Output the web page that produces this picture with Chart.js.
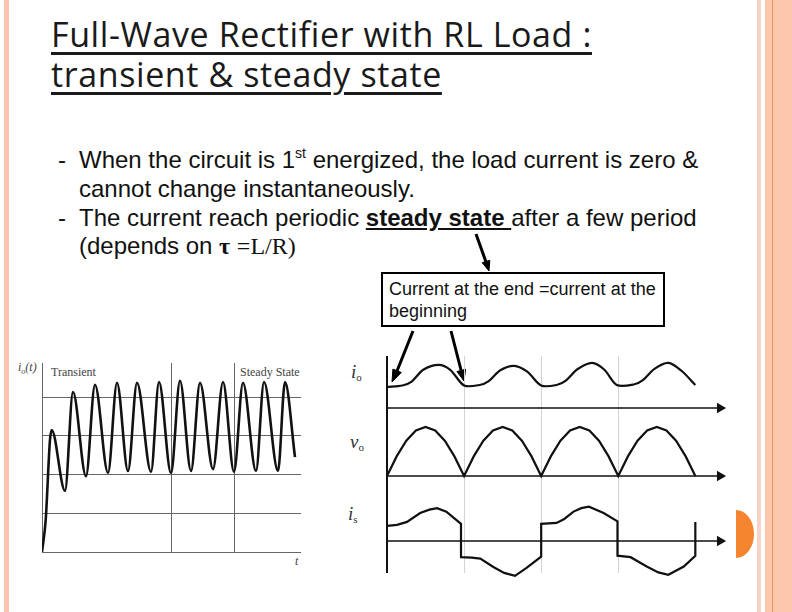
<!DOCTYPE html>
<html>
<head>
<meta charset="utf-8">
<script src="https://cdn.jsdelivr.net/npm/chart.js@4.4.1/dist/chart.umd.min.js"></script>
<style>
body { margin:0; width:792px; height:612px; position:relative; overflow:hidden; background:#fff; font-family:"Liberation Sans", Arial, sans-serif; color:#111; }
.abs { position:absolute; white-space:nowrap; }
.title { left:51px; font-family:"Open Sans", sans-serif; font-size:34px; letter-spacing:0.6px; line-height:40px; color:#1a1a1a; text-decoration:underline; text-decoration-thickness:2.5px; text-underline-offset:5px; }
.body { font-size:24px; line-height:29px; }
.serif { font-family:"Liberation Serif", serif; }
.lbl { font-family:"Liberation Serif", serif; color:#444; }
#note { left:381px; top:272px; width:274px; height:47px; border:2px solid #000; font-size:18px; line-height:22px; padding:4px 0 0 6px; white-space:normal; box-sizing:content-box; }
canvas { position:absolute; }
</style>
</head>
<body>
<!-- slide decoration -->
<div class="abs" style="left:4px;top:0;width:5px;height:612px;background:#fcc4ae"></div>
<div class="abs" style="left:757px;top:0;width:4px;height:612px;background:#f6d3c4"></div>
<div class="abs" style="left:765px;top:0;width:27px;height:612px;background:#fdc7ae"></div>
<div class="abs" style="left:772px;top:0;width:1px;height:612px;background:#ee9864"></div>
<div class="abs" style="left:736px;top:510px;width:18px;height:48px;background:#f5852f;border-radius:0 100% 100% 0 / 0 50% 50% 0"></div>

<div class="abs title" style="top:14px">Full-Wave Rectifier with RL Load :</div>
<div class="abs title" style="top:54px">transient &amp; steady state</div>

<div class="abs body" style="left:58px;top:145px">-</div>
<div class="abs body" style="left:79px;top:145px">When the circuit is 1<sup style="font-size:14px;vertical-align:10px;line-height:0">st</sup> energized, the load current is zero &amp;</div>
<div class="abs body" style="left:79px;top:174px">cannot change instantaneously.</div>
<div class="abs body" style="left:58px;top:203px">-</div>
<div class="abs body" style="left:79px;top:203px">The current reach periodic <b><u>steady state </u></b>after a few period</div>
<div class="abs body" style="left:79px;top:231px">(depends on <span class="serif" style="font-weight:bold">τ</span> <span class="serif">=L/R)</span></div>

<div class="abs" id="note">Current at the end =current at the<br>beginning</div>

<svg class="abs" style="left:0;top:0" width="792" height="612">
  <g stroke="#000" stroke-width="3" fill="#000">
    <line x1="476" y1="234" x2="486" y2="262"/>
    <polygon points="489,271 482.2,262.7 489.8,260.3" stroke-width="1"/>
    <line x1="413" y1="331" x2="397" y2="371"/>
    <polygon points="392,382 401.3,372.5 392.9,369.1" stroke-width="1"/>
    <line x1="451" y1="331" x2="461" y2="370"/>
    <polygon points="464,381 456.9,371.5 465.6,369.3" stroke-width="1"/>
  </g>
</svg>

<!-- left plot labels -->
<div class="abs lbl" style="left:18px;top:360px;font-size:12px;font-style:italic">i<sub style="font-size:8px">o</sub>(t)</div>
<div class="abs lbl" style="left:51px;top:365px;font-size:12px">Transient</div>
<div class="abs lbl" style="left:240px;top:365px;font-size:12px">Steady State</div>
<div class="abs lbl" style="left:295px;top:554px;font-size:12px;font-style:italic">t</div>

<!-- right plot labels -->
<div class="abs lbl" style="left:351px;top:361px;font-size:19px;font-style:italic;color:#333">i<sub style="font-size:11px;font-style:normal;vertical-align:-3px">o</sub></div>
<div class="abs lbl" style="left:350px;top:431px;font-size:19px;font-style:italic;color:#333">v<sub style="font-size:11px;font-style:normal;vertical-align:-3px">o</sub></div>
<div class="abs lbl" style="left:348px;top:503px;font-size:19px;font-style:italic;color:#333">i<sub style="font-size:11px;font-style:normal;vertical-align:-3px">s</sub></div>

<canvas id="transient" width="280" height="210" style="left:30px;top:355px"></canvas>
<canvas id="waves" width="355" height="235" style="left:372px;top:348px"></canvas>

<script>
// Transient load current i_o(t) (left plot)
const tTime = [0, 0.37, 0.8, 0.97, 2.3, 3.1, 4.4, 5.3, 6.6, 7.5, 8.6, 9.5, 10.9, 11.7, 12.9, 13.8, 14.9, 15.8, 17.1, 18.1, 19.2, 20.1, 21.4, 22.2, 23.6, 24.3, 25.3];
const tCurrent = [0, 0.83, 2.9, 3.15, 1.58, 4.13, 1.96, 4.32, 2.04, 4.37, 2.09, 4.37, 2.07, 4.39, 2.04, 4.42, 2.09, 4.37, 2.14, 4.39, 2.07, 4.37, 2.09, 4.39, 2.09, 4.39, 2.45];
const tGridX = [0, 12.9, 19.2];
const tGridY = [0, 1, 2, 3, 4];

// Steady-state waveforms (right plot), time in half periods
const ioTime = [0, 0.2, 0.32, 0.47, 0.67, 0.82, 1.0, 1.2, 1.32, 1.47, 1.65, 1.82, 2.0, 2.2, 2.32, 2.47, 2.66, 2.82, 2.98, 3.2, 3.32, 3.47, 3.65, 3.82, 4.0];
const ioValue = [0.43, 0.46, 0.54, 0.78, 0.88, 0.78, 0.46, 0.47, 0.55, 0.77, 0.86, 0.74, 0.46, 0.47, 0.56, 0.79, 0.92, 0.78, 0.47, 0.48, 0.57, 0.8, 0.92, 0.76, 0.47];
const voTime = [0, 0.125, 0.25, 0.375, 0.5, 0.625, 0.75, 0.875, 1, 1.125, 1.25, 1.375, 1.5, 1.625, 1.75, 1.875, 2, 2.125, 2.25, 2.375, 2.5, 2.625, 2.75, 2.875, 3, 3.125, 3.25, 3.375, 3.5, 3.625, 3.75, 3.875, 4];
const voValue = [0, 0.4, 0.72, 0.93, 1, 0.93, 0.72, 0.4, 0, 0.4, 0.72, 0.93, 1, 0.93, 0.72, 0.4, 0, 0.4, 0.72, 0.93, 1, 0.93, 0.72, 0.4, 0, 0.4, 0.72, 0.93, 1, 0.93, 0.72, 0.4, 0];
const isTime = [0, 0.13, 0.26, 0.43, 0.55, 0.65, 0.77, 0.96, 0.96, 1.1, 1.21, 1.38, 1.52, 1.66, 1.81, 2.0, 2.0, 2.2, 2.3, 2.42, 2.52, 2.62, 2.81, 2.99, 2.99, 3.16, 3.37, 3.52, 3.65, 3.85, 4.0, 4.0];
const isValue = [0.31, 0.33, 0.39, 0.57, 0.64, 0.67, 0.6, 0.35, -0.33, -0.34, -0.36, -0.53, -0.65, -0.71, -0.55, -0.32, 0.35, 0.37, 0.45, 0.6, 0.67, 0.7, 0.57, 0.4, -0.3, -0.33, -0.52, -0.64, -0.69, -0.52, -0.3, 0.39];
const axisTime = [0, 4.32];
const axisValue = [0, 0];
const halfPeriodTicks = [0, 1, 2, 3];

const pts = (xs, ys) => xs.map((x, i) => ({ x: x, y: ys[i] }));

new Chart(document.getElementById('transient'), {
    type: 'line',
    data: {
        datasets: [{
            data: pts(tTime, tCurrent),
            borderColor: '#111',
            borderWidth: 2.6,
            pointRadius: 0,
            cubicInterpolationMode: 'monotone'
        }]
    },
    options: {
        responsive: false,
        animation: false,
        devicePixelRatio: 1,
        layout: { padding: { left: 12, top: 8, right: 9, bottom: 13 } },
        plugins: { legend: { display: false }, tooltip: { enabled: false } },
        scales: {
            x: {
                type: 'linear', min: 0, max: 25.9,
                afterBuildTicks: s => { s.ticks = tGridX.map(v => ({ value: v })); },
                ticks: { display: false },
                border: { display: false },
                grid: { drawTicks: false, color: '#666', lineWidth: 1 }
            },
            y: {
                type: 'linear', min: 0, max: 4.88,
                afterBuildTicks: s => { s.ticks = tGridY.map(v => ({ value: v })); },
                ticks: { display: false },
                border: { display: false },
                grid: { drawTicks: false, color: '#666', lineWidth: 1 }
            }
        }
    }
});

const hiddenY = (weight, min, max) => ({
    type: 'linear', position: 'left', stack: 'wave', stackWeight: weight, min: min, max: max,
    ticks: { display: false }, grid: { display: false }, border: { display: false }
});
const axisLine = id => ({
    data: pts(axisTime, axisValue), yAxisID: id,
    borderColor: '#111', borderWidth: 1.6, clip: false,
    pointRadius: [0, 4.5], pointStyle: 'triangle', rotation: 90,
    pointBackgroundColor: '#111', pointBorderColor: '#111'
});
const wave = (xs, ys, id, tension) => ({
    data: pts(xs, ys), yAxisID: id,
    borderColor: '#111', borderWidth: 2.2, pointRadius: 0, tension: tension, clip: false
});

new Chart(document.getElementById('waves'), {
    type: 'line',
    data: {
        datasets: [
            wave(ioTime, ioValue, 'yIo', 0.3), axisLine('yIo'),
            wave(voTime, voValue, 'yVo', 0), axisLine('yVo'),
            wave(isTime, isValue, 'yIs', 0), axisLine('yIs')
        ]
    },
    options: {
        responsive: false,
        animation: false,
        devicePixelRatio: 1,
        layout: { padding: { left: 7, top: 8, right: 7, bottom: 10 } },
        plugins: { legend: { display: false }, tooltip: { enabled: false } },
        scales: {
            x: {
                type: 'linear', min: 0, max: 4.32,
                afterBuildTicks: s => { s.ticks = halfPeriodTicks.map(v => ({ value: v })); },
                ticks: { display: false },
                border: { display: false },
                grid: {
                    drawTicks: false,
                    color: c => (c.tick && c.tick.value === 0) ? '#111' : '#d4d4d4',
                    lineWidth: c => (c.tick && c.tick.value === 0) ? 2 : 1
                }
            },
            yIs: hiddenY(83, -0.653, 1.041),
            yVo: hiddenY(70, -0.286, 1.143),
            yIo: hiddenY(64, -0.245, 1.061)
        }
    }
});
</script>
</body>
</html>
